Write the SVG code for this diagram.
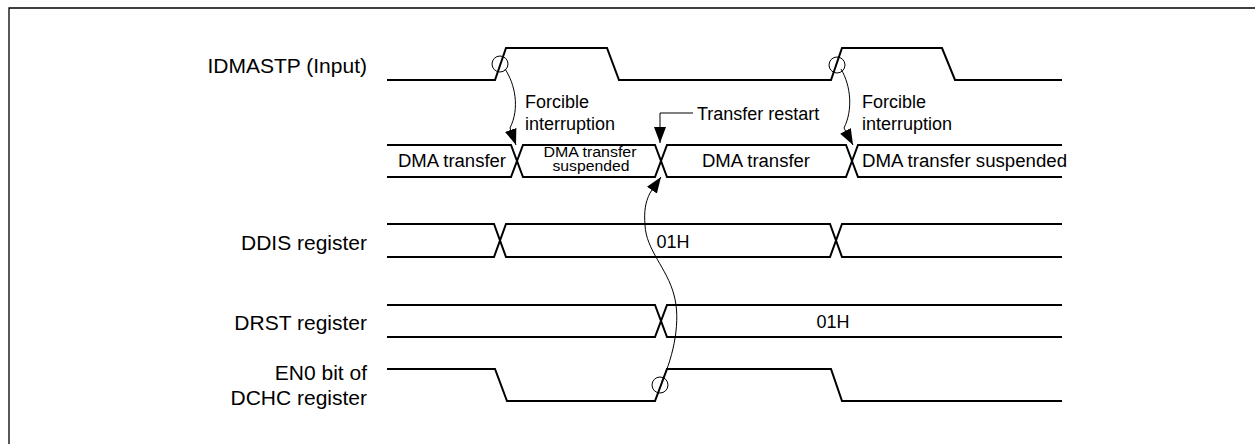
<svg xmlns="http://www.w3.org/2000/svg" width="1255" height="444" viewBox="0 0 1255 444">
<style>
text{font-family:"Liberation Sans",Arial,sans-serif;fill:#000}
.lbl{font-size:21px;text-anchor:end}
.t18{font-size:18px}
.t15{font-size:14px;text-anchor:middle}
.sig{fill:none;stroke:#000;stroke-width:2;stroke-linejoin:miter}
.thin{fill:none;stroke:#000;stroke-width:1}
</style>
<defs>
<marker id="ah" markerUnits="userSpaceOnUse" markerWidth="17" markerHeight="13" refX="16" refY="6" orient="auto">
<path d="M0,0 L16,6 L0,12 z" fill="#000"/>
</marker>
</defs>
<rect width="1255" height="444" fill="#fff"/>
<path d="M9,444 V8 H1255" fill="none" stroke="#000" stroke-width="1.3"/>

<g id="labels">
<text class="lbl" x="367" y="72.5">IDMASTP (Input)</text>
<text class="lbl" x="367" y="249.5">DDIS register</text>
<text class="lbl" x="367" y="329.5">DRST register</text>
<text class="lbl" x="367" y="380">EN0 bit of</text>
<text class="lbl" x="367" y="405">DCHC register</text>
</g>

<g id="idmastp">
<path class="sig" d="M387,80 H495 L506,48 H607 L619,80 H831 L842,48 H942 L955,80 H1062"/>
<circle class="thin" cx="500" cy="64" r="8"/>
<circle class="thin" cx="837" cy="65" r="8"/>
</g>

<g id="dma-bus">
<path class="sig" d="M387,145 H511 L523,177 H655 L667,145 H846 L858,177 H1062"/>
<path class="sig" d="M387,177 H511 L523,145 H655 L667,177 H846 L858,145 H1062"/>
<text class="t18" x="398" y="167" textLength="108" lengthAdjust="spacingAndGlyphs">DMA transfer</text>
<text class="t15" x="590" y="157" textLength="93" lengthAdjust="spacingAndGlyphs">DMA transfer</text>
<text class="t15" x="591" y="171" textLength="77" lengthAdjust="spacingAndGlyphs">suspended</text>
<text class="t18" x="702" y="167" textLength="108" lengthAdjust="spacingAndGlyphs">DMA transfer</text>
<text class="t18" x="862" y="167" textLength="205" lengthAdjust="spacingAndGlyphs">DMA transfer suspended</text>
</g>

<g id="ddis">
<path class="sig" d="M387,224 H494 L506,257 H830 L842,224 H1062"/>
<path class="sig" d="M387,257 H494 L506,224 H830 L842,257 H1062"/>
<text class="t18" x="673" y="247.5" text-anchor="middle">01H</text>
</g>

<g id="drst">
<path class="sig" d="M387,305 H655 L667,337 H1062"/>
<path class="sig" d="M387,337 H655 L667,305 H1062"/>
<text class="t18" x="833" y="327.5" text-anchor="middle">01H</text>
</g>

<g id="en0">
<path class="sig" d="M387,369 H495 L507,401 H655 L667,369 H831 L842,401 H1062"/>
<circle class="thin" cx="660" cy="385" r="8"/>
</g>

<g id="annotations">
<text class="t18" x="525" y="108">Forcible</text>
<text class="t18" x="525" y="130">interruption</text>
<text class="t18" x="862" y="108">Forcible</text>
<text class="t18" x="862" y="130">interruption</text>
<text class="t18" x="697" y="120">Transfer restart</text>
</g>

<g id="connectors">
<path class="thin" d="M505,69 C515,84 520,108 510,128 L516,145" marker-end="url(#ah)"/>
<path class="thin" d="M841,69 C851,86 853,110 844,128 L853,145" marker-end="url(#ah)"/>
<path class="thin" d="M693,113 H660 V143" marker-end="url(#ah)"/>
<path class="thin" d="M662,381 C674,355 681,320 674,295 C667,268 646,250 645,225 C644,212 645,203 650,193 L661,177" marker-end="url(#ah)"/>
</g>
</svg>
